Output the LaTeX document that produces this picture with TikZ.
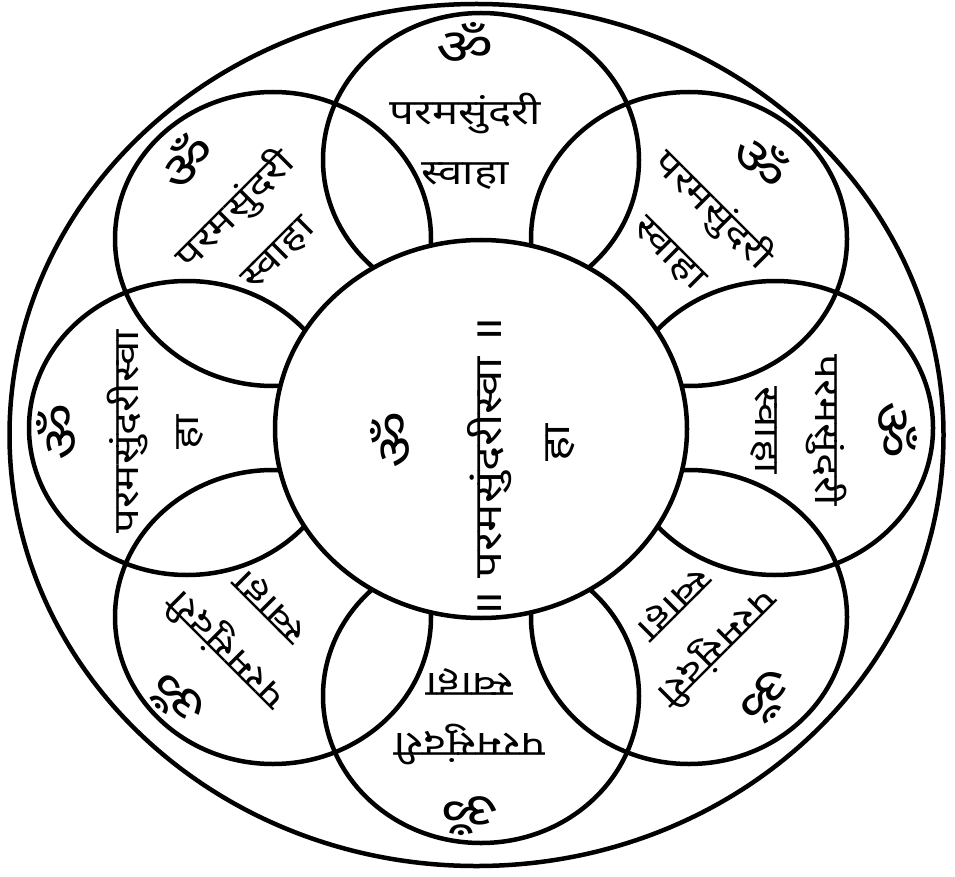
\documentclass[tikz,border=0pt]{standalone}
\usepackage{fontspec}
\newfontfamily\deva[Script=Devanagari,FakeStretch=1.25]{Noto Sans}
\newcommand{\omsign}{{\fontsize{50}{60}\selectfont ॐ}}
\begin{document}
\begin{tikzpicture}[x=1pt,y=-1pt,line width=4.5pt,
  petal/.style={draw=black,line width=4.5pt},
  mantra/.style={font=\deva\fontsize{35}{60}\selectfont,align=center,inner sep=0pt},
  cmantra/.style={font=\deva\fontsize{38}{60}\selectfont,inner sep=0pt,rotate=90}]
\useasboundingbox (0,0) rectangle (955,877);
\fill[white] (0,0) rectangle (955,877);
% outer circle
\coordinate (O) at (476.5,435);
\draw[petal] (O) ellipse [x radius=467pt, y radius=431pt];
% petal centres
\coordinate (pN)  at (481,160);
\coordinate (pNE) at (689,239);
\coordinate (pE)  at (775,428);
\coordinate (pSE) at (689,617);
\coordinate (pS)  at (481,696);
\coordinate (pSW) at (273,617);
\coordinate (pW)  at (187,428);
\coordinate (pNW) at (273,239);
\foreach \p in {pN,pNE,pE,pSE,pS,pSW,pW,pNW}
  \draw[petal] (\p) ellipse [x radius=158pt, y radius=147pt];
% central circle
\coordinate (C) at (481,429);
\filldraw[petal,fill=white] (C) ellipse [x radius=206pt, y radius=189pt];
% petal texts
\node[mantra,rotate=0]    (tN)  at (465,106) {\omsign\\परमसुंदरी\\स्वाहा};
\node[mantra,rotate=-45]  (tNE) at (718,205) {\omsign\\परमसुंदरी\\स्वाहा};
\node[mantra,rotate=-90]  (tE)  at (834,430) {\omsign\\परमसुंदरी\\स्वाहा};
\node[mantra,rotate=-135] (tSE) at (722,652) {\omsign\\परमसुंदरी\\स्वाहा};
\node[mantra,rotate=180]  (tS)  at (470,752) {\omsign\\परमसुंदरी\\स्वाहा};
\node[mantra,rotate=135]  (tSW) at (222,655) {\omsign\\परमसुंदरी\\स्वाहा};
\node[mantra,rotate=90]   (tW)  at (120,432) {\omsign\\परमसुंदरीस्वा\\हा};
\node[mantra,rotate=45]   (tNW) at (230,205) {\omsign\\परमसुंदरी\\स्वाहा};
% centre texts
\node[cmantra] (cOm)  at (391,440) {\omsign};
\node[cmantra] (cMid) at (490,468) {॥ परमसुंदरीस्वा ॥};
\node[cmantra] (cHa)  at (560,443) {हा};
\end{tikzpicture}
\end{document}
